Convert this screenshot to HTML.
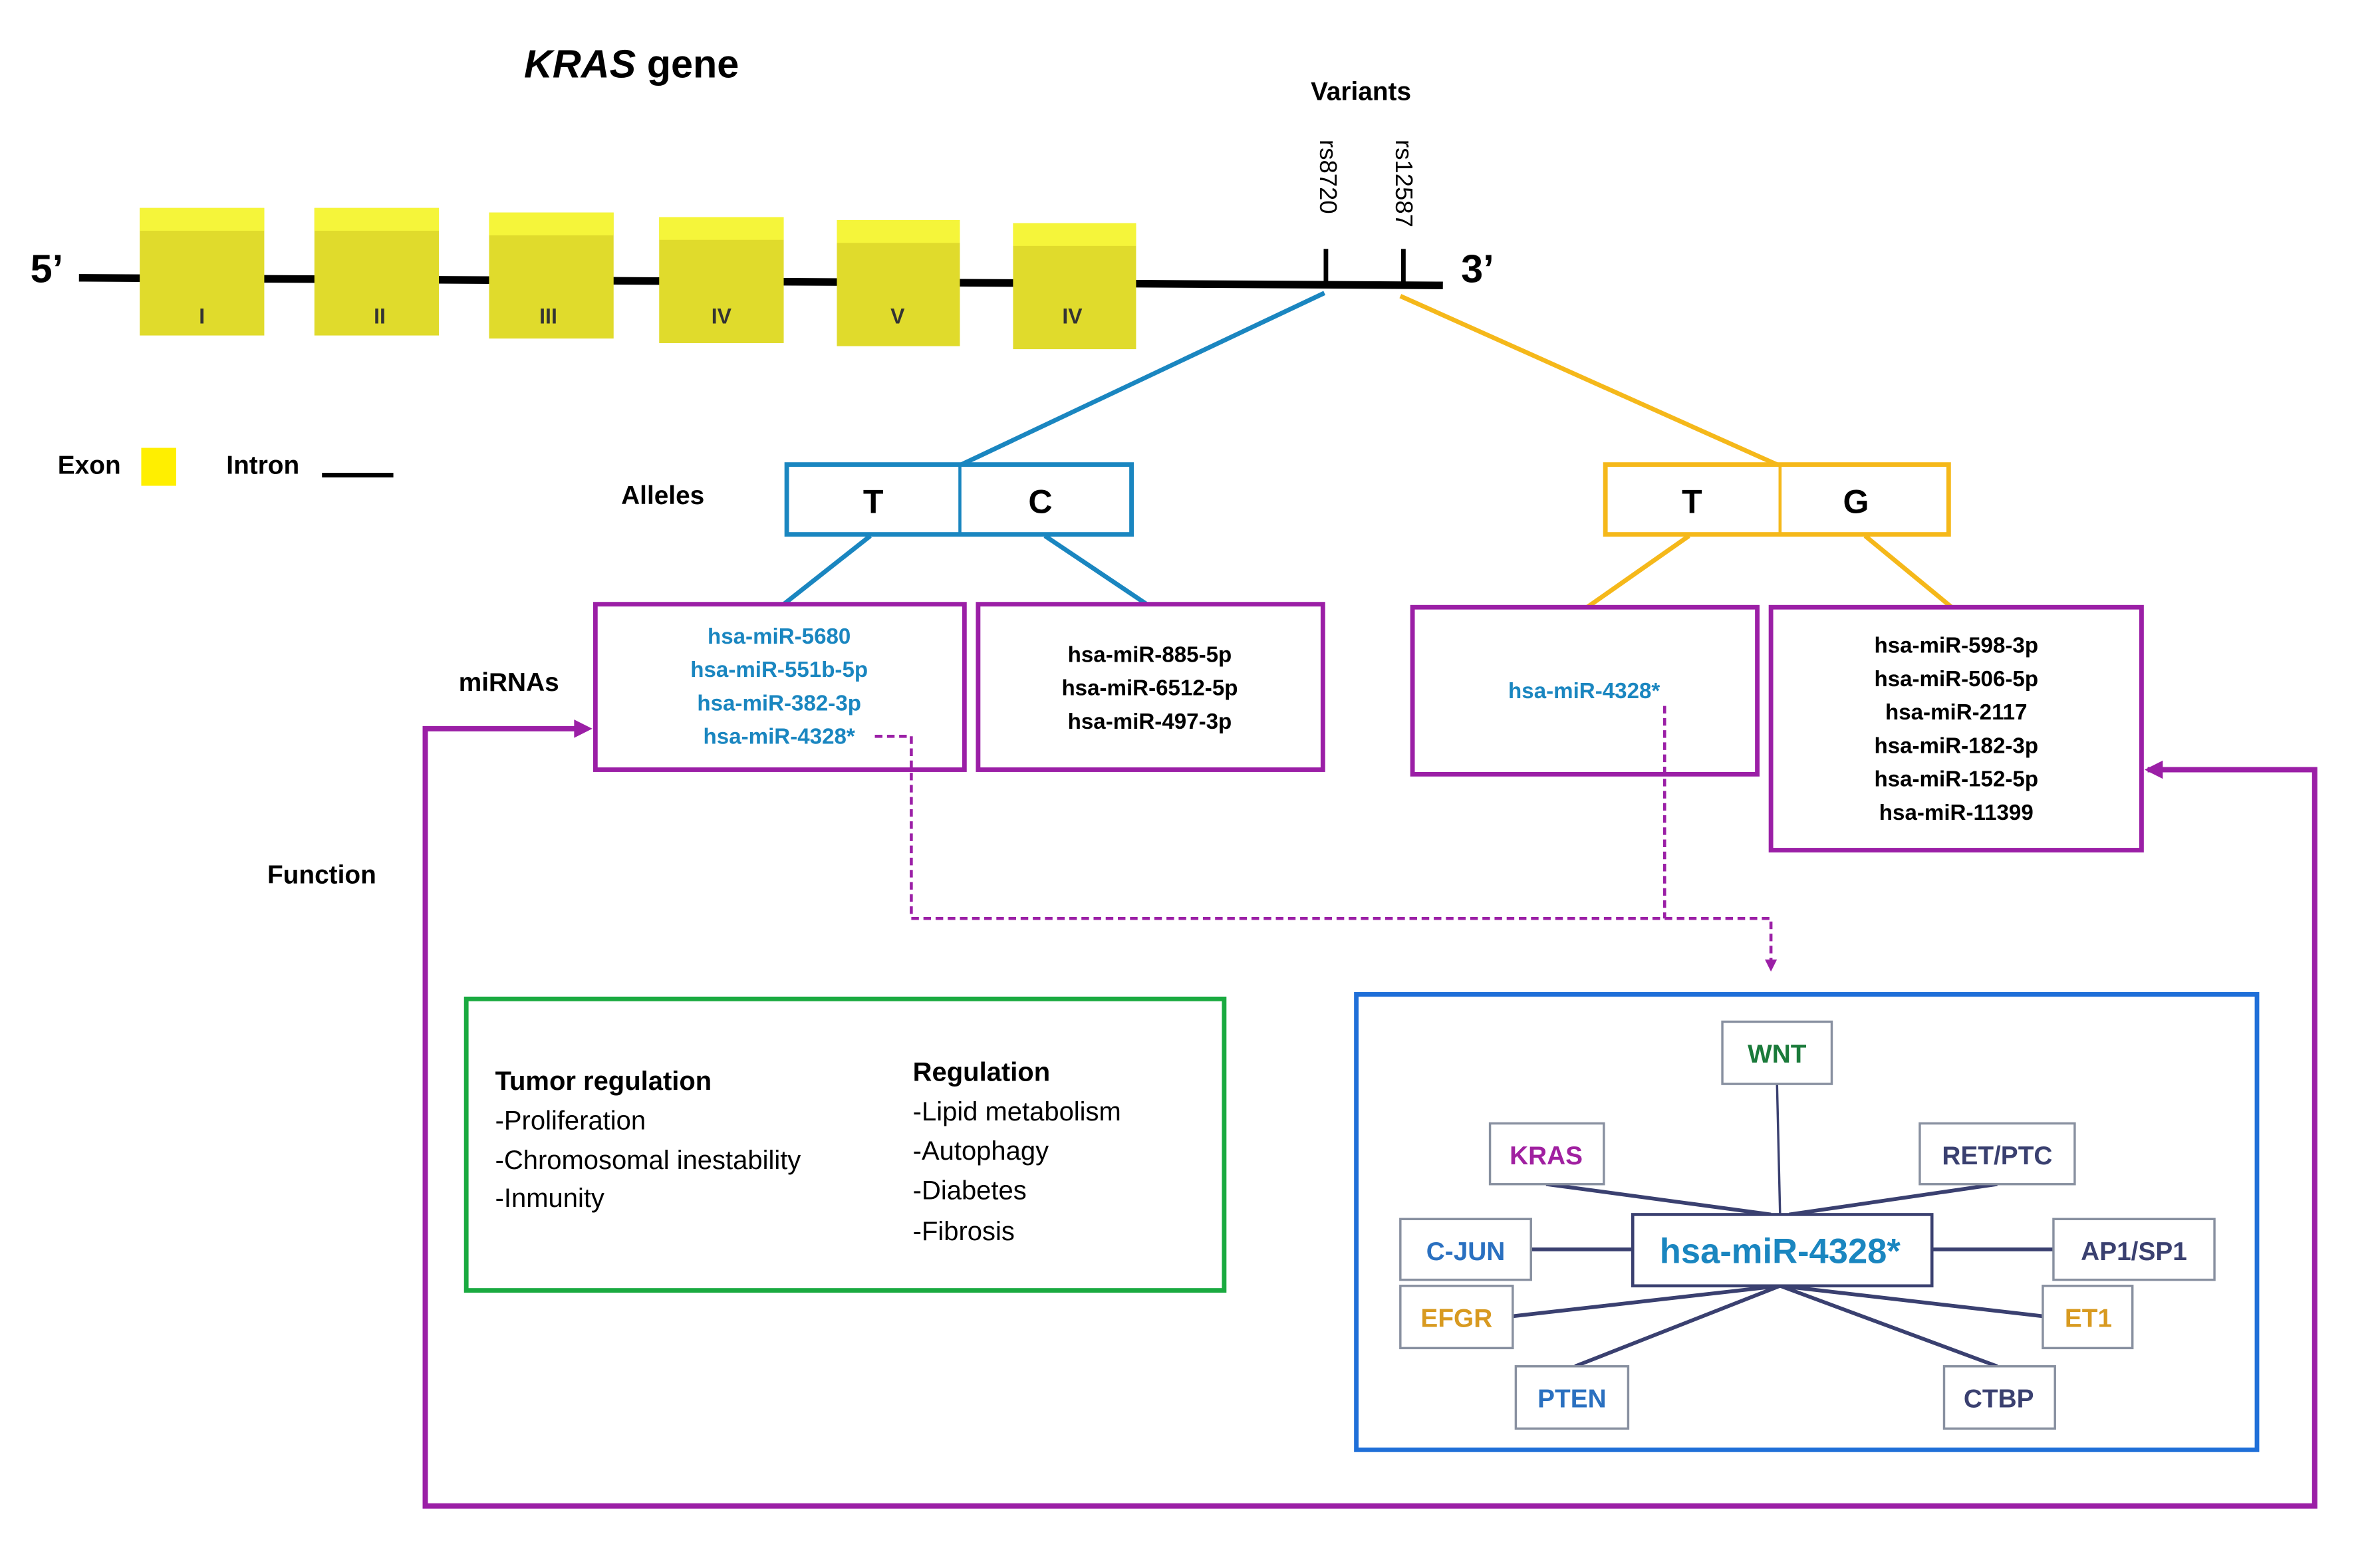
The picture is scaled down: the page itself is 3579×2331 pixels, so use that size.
<!DOCTYPE html>
<html><head><meta charset="utf-8"><style>
html,body{margin:0;padding:0;background:#fff;}
svg{display:block;}
text{font-family:"Liberation Sans",sans-serif;}
</style></head><body>
<svg width="3579" height="2331" viewBox="0 0 1567 1021" preserveAspectRatio="none" xmlns="http://www.w3.org/2000/svg">
<defs>
<marker id="pa" markerWidth="8" markerHeight="8" refX="6" refY="4" orient="auto" markerUnits="userSpaceOnUse"><path d="M0,0 L8,4 L0,8 z" fill="#9b1fa6"/></marker>
</defs>
<text x="345" y="51" font-size="26" font-weight="bold"><tspan font-style="italic">KRAS</tspan> gene</text>
<text x="863" y="66" font-size="17" font-weight="bold">Variants</text>
<line x1="52" y1="183" x2="950" y2="188" stroke="#000" stroke-width="5"/>
<text x="20" y="186" font-size="26" font-weight="bold">5’</text>
<text x="962" y="186" font-size="26" font-weight="bold">3’</text>
<g font-size="14" font-weight="bold" fill="#333" text-anchor="middle">
<rect x="92" y="137" width="82" height="84" fill="#e0db2c"/><rect x="92" y="137" width="82" height="15" fill="#f5f53a"/><text x="133" y="213" font-family="Liberation Serif">I</text>
<rect x="207" y="137" width="82" height="84" fill="#e0db2c"/><rect x="207" y="137" width="82" height="15" fill="#f5f53a"/><text x="250" y="213" font-family="Liberation Serif">II</text>
<rect x="322" y="140" width="82" height="83" fill="#e0db2c"/><rect x="322" y="140" width="82" height="15" fill="#f5f53a"/><text x="361" y="213" font-family="Liberation Serif">III</text>
<rect x="434" y="143" width="82" height="83" fill="#e0db2c"/><rect x="434" y="143" width="82" height="15" fill="#f5f53a"/><text x="475" y="213" font-family="Liberation Serif">IV</text>
<rect x="551" y="145" width="81" height="83" fill="#e0db2c"/><rect x="551" y="145" width="81" height="15" fill="#f5f53a"/><text x="591" y="213" font-family="Liberation Serif">V</text>
<rect x="667" y="147" width="81" height="83" fill="#e0db2c"/><rect x="667" y="147" width="81" height="15" fill="#f5f53a"/><text x="706" y="213" font-family="Liberation Serif">IV</text>
</g>
<line x1="873" y1="164" x2="873" y2="189" stroke="#000" stroke-width="3"/>
<line x1="924" y1="164" x2="924" y2="189" stroke="#000" stroke-width="3"/>
<text transform="translate(869,92) rotate(90)" font-size="16">rs8720</text>
<text transform="translate(919,92) rotate(90)" font-size="16">rs12587</text>
<text x="38" y="312" font-size="17" font-weight="bold">Exon</text>
<rect x="93" y="295" width="23" height="25" fill="#ffef00"/>
<text x="149" y="312" font-size="17" font-weight="bold">Intron</text>
<line x1="212" y1="313" x2="259" y2="313" stroke="#000" stroke-width="3"/>
<line x1="872" y1="193" x2="633" y2="306" stroke="#1a86c0" stroke-width="3"/>
<line x1="922" y1="195" x2="1170" y2="306" stroke="#f5b81a" stroke-width="3"/>
<text x="409" y="332" font-size="17" font-weight="bold">Alleles</text>
<rect x="518" y="306" width="227" height="46" fill="#fff" stroke="#1a86c0" stroke-width="3"/>
<line x1="632" y1="306" x2="632" y2="352" stroke="#1a86c0" stroke-width="2"/>
<text x="575" y="338" font-size="22" font-weight="bold" text-anchor="middle">T</text>
<text x="685" y="338" font-size="22" font-weight="bold" text-anchor="middle">C</text>
<rect x="1057" y="306" width="226" height="46" fill="#fff" stroke="#f5b81a" stroke-width="3"/>
<line x1="1172" y1="306" x2="1172" y2="352" stroke="#f5b81a" stroke-width="2"/>
<text x="1114" y="338" font-size="22" font-weight="bold" text-anchor="middle">T</text>
<text x="1222" y="338" font-size="22" font-weight="bold" text-anchor="middle">G</text>
<line x1="573" y1="353" x2="516" y2="398" stroke="#1a86c0" stroke-width="3"/>
<line x1="688" y1="353" x2="755" y2="398" stroke="#1a86c0" stroke-width="3"/>
<line x1="1112" y1="353" x2="1045" y2="400" stroke="#f5b81a" stroke-width="3"/>
<line x1="1228" y1="353" x2="1285" y2="400" stroke="#f5b81a" stroke-width="3"/>
<text x="302" y="455" font-size="17" font-weight="bold">miRNAs</text>
<g fill="none" stroke="#9b1fa6" stroke-width="3">
<rect x="392" y="398" width="243" height="109"/>
<rect x="644" y="398" width="227" height="109"/>
<rect x="930" y="400" width="227" height="110"/>
<rect x="1166" y="400" width="244" height="160"/>
</g>
<g font-size="14.5" font-weight="bold" text-anchor="middle">
<g fill="#1a86c0"><text x="513" y="424">hsa-miR-5680</text><text x="513" y="446">hsa-miR-551b-5p</text><text x="513" y="468">hsa-miR-382-3p</text><text x="513" y="490">hsa-miR-4328*</text>
<text x="1043" y="460">hsa-miR-4328*</text></g>
<text x="757" y="436">hsa-miR-885-5p</text><text x="757" y="458">hsa-miR-6512-5p</text><text x="757" y="480">hsa-miR-497-3p</text>
<text x="1288" y="430">hsa-miR-598-3p</text><text x="1288" y="452">hsa-miR-506-5p</text><text x="1288" y="474">hsa-miR-2117</text><text x="1288" y="496">hsa-miR-182-3p</text><text x="1288" y="518">hsa-miR-152-5p</text><text x="1288" y="540">hsa-miR-11399</text>
</g>
<text x="176" y="582" font-size="17" font-weight="bold">Function</text>
<g fill="none" stroke="#9b1fa6" stroke-width="2" stroke-dasharray="5,3">
<polyline points="576,485 600,485 600,605 1166,605 1166,638" marker-end="url(#pa)"/>
<line x1="1096" y1="465" x2="1096" y2="605"/>
</g>
<polyline points="386,480 280,480 280,992 1524,992 1524,507 1414,507" fill="none" stroke="#9b1fa6" stroke-width="3.5"/>
<path d="M378,474 L390,480 L378,486 z" fill="#9b1fa6"/>
<path d="M1424,501 L1412,507 L1424,513 z" fill="#9b1fa6"/>
<rect x="307" y="658" width="499" height="192" fill="none" stroke="#1aaa40" stroke-width="3"/>
<g font-size="17.5">
<text x="326" y="718" font-weight="bold">Tumor regulation</text>
<text x="326" y="744">-Proliferation</text>
<text x="326" y="770">-Chromosomal inestability</text>
<text x="326" y="795">-Inmunity</text>
<text x="601" y="712" font-weight="bold">Regulation</text>
<text x="601" y="738">-Lipid metabolism</text>
<text x="601" y="764">-Autophagy</text>
<text x="601" y="790">-Diabetes</text>
<text x="601" y="817">-Fibrosis</text>
</g>
<rect x="893" y="655" width="593" height="300" fill="none" stroke="#1f6fd8" stroke-width="3"/>
<g stroke="#3a4070" stroke-width="2.5">
<line x1="1170" y1="714" x2="1172" y2="800" stroke-width="1.5"/>
<line x1="1018" y1="780" x2="1166" y2="800"/>
<line x1="1315" y1="780" x2="1178" y2="800"/>
<line x1="1008" y1="823" x2="1075" y2="823"/>
<line x1="1272" y1="823" x2="1352" y2="823"/>
<line x1="1172" y1="847" x2="996" y2="867"/>
<line x1="1172" y1="847" x2="1345" y2="867"/>
<line x1="1172" y1="847" x2="1037" y2="900"/>
<line x1="1172" y1="847" x2="1315" y2="900"/>
</g>
<g fill="#fff" stroke="#8890a0" stroke-width="1.5">
<rect x="1134" y="673" width="72" height="41"/>
<rect x="981" y="740" width="75" height="40"/>
<rect x="1264" y="740" width="102" height="40"/>
<rect x="922" y="803" width="86" height="40"/>
<rect x="1352" y="803" width="106" height="40"/>
<rect x="922" y="847" width="74" height="41"/>
<rect x="1345" y="847" width="59" height="41"/>
<rect x="998" y="900" width="74" height="41"/>
<rect x="1280" y="900" width="73" height="41"/>
</g>
<rect x="1075" y="800" width="197" height="47" fill="#fff" stroke="#3a4070" stroke-width="2"/>
<text x="1172" y="832" font-size="23" font-weight="bold" fill="#1a86c0" text-anchor="middle">hsa-miR-4328*</text>
<g font-size="17" font-weight="bold" text-anchor="middle">
<text x="1170" y="700" fill="#1a7a3a">WNT</text>
<text x="1018" y="767" fill="#a020a0">KRAS</text>
<text x="1315" y="767" fill="#3a4070">RET/PTC</text>
<text x="965" y="830" fill="#2a70c0">C-JUN</text>
<text x="1405" y="830" fill="#3a4070">AP1/SP1</text>
<text x="959" y="874" fill="#d89a20">EFGR</text>
<text x="1375" y="874" fill="#d89a20">ET1</text>
<text x="1035" y="927" fill="#2a70c0">PTEN</text>
<text x="1316" y="927" fill="#3a4070">CTBP</text>
</g>
</svg>
</body></html>
